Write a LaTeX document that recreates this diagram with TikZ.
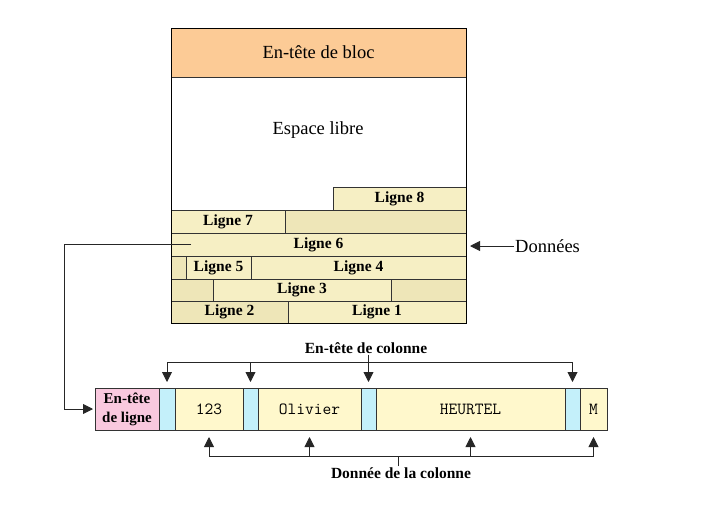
\documentclass[tikz,border=0pt]{standalone}
\usepackage{fontspec}
\setmainfont{Liberation Serif}
\usetikzlibrary{arrows.meta}
\definecolor{hdrc}{HTML}{FCCB96}
\definecolor{cellA}{HTML}{F6EFC4}
\definecolor{cellB}{HTML}{EEE6B8}
\definecolor{datac}{HTML}{FFF8CC}
\definecolor{bluec}{HTML}{C4F0FA}
\definecolor{pinkc}{HTML}{F9C8DE}
\tikzset{
  box/.style={draw=black!80, line width=0.8pt, inner sep=0pt, outer sep=0pt, anchor=north west},
  lg/.style={box, fill=cellA, font=\bfseries\fontsize{15.5}{17}\selectfont},
  fil/.style={box, fill=cellB},
  dat/.style={box, fill=datac, minimum height=42pt, font=\ttfamily\fontsize{17}{19}\selectfont},
  sep/.style={box, fill=bluec, minimum height=42pt},
  conn/.style={draw=black!85, line width=0.9pt},
  arr/.style={conn, -{Triangle[length=10pt,width=10pt]}},
  lbl/.style={font=\bfseries\fontsize{15.5}{18}\selectfont, inner sep=1pt},
}
\begin{document}
\begin{tikzpicture}[x=1pt,y=-1pt]
\useasboundingbox (0,0) rectangle (709,509);
% block
\node[box, line width=1pt, draw=black, fill=white, minimum width=295pt, minimum height=295pt] (blk) at (171,28) {};
\node[box, fill=hdrc, minimum width=295pt, minimum height=49pt, font=\fontsize{18.5}{20}\selectfont] (hdr) at (171,28) {En-tête de bloc};
\node[font=\fontsize{18.5}{20}\selectfont] (free) at (318,130) {Espace libre};
% rows
\node[lg, minimum width=133pt, minimum height=23pt] (l8) at (333,187) {Ligne 8};
\node[lg, minimum width=114pt, minimum height=23pt] (l7) at (171,210) {Ligne 7};
\node[fil, minimum width=181pt, minimum height=23pt] (f7) at (285,210) {};
\node[lg, minimum width=295pt, minimum height=23pt] (l6) at (171,233) {Ligne 6};
\node[fil, minimum width=15pt, minimum height=23pt] (f5) at (171,256) {};
\node[lg, minimum width=65pt, minimum height=23pt] (l5) at (186,256) {Ligne 5};
\node[lg, minimum width=215pt, minimum height=23pt] (l4) at (251,256) {Ligne 4};
\node[fil, minimum width=42pt, minimum height=22pt] (f3a) at (171,279) {};
\node[lg, minimum width=178pt, minimum height=22pt] (l3) at (213,279) {Ligne 3};
\node[fil, minimum width=75pt, minimum height=22pt] (f3b) at (391,279) {};
\node[lg, fill=cellB, minimum width=117pt, minimum height=22pt] (l2) at (171,301) {Ligne 2};
\node[lg, minimum width=178pt, minimum height=22pt] (l1) at (288,301) {Ligne 1};
\draw[line width=1pt] (blk.north west) rectangle (blk.south east);
% Donnees
\node[anchor=west, font=\fontsize{18.5}{20}\selectfont, inner sep=1pt] (don) at (514,246) {Données};
\draw[arr] (don.west) -- ([xshift=4pt]don.west -| l6.east);
% row detail
\node[box, fill=pinkc, minimum width=64pt, minimum height=42pt, align=center, font=\bfseries\fontsize{15}{19}\selectfont] (rh) at (95,388) {En-tête\\de ligne};
\node[sep, minimum width=16pt] (b1) at (159,388) {};
\node[dat, minimum width=68pt] (d1) at (175,388) {123};
\node[sep, minimum width=15pt] (b2) at (243,388) {};
\node[dat, minimum width=103pt] (d2) at (258,388) {Olivier};
\node[sep, minimum width=15pt] (b3) at (361,388) {};
\node[dat, minimum width=189pt] (d3) at (376,388) {HEURTEL};
\node[sep, minimum width=15pt] (b4) at (565,388) {};
\node[dat, minimum width=27pt] (d4) at (580,388) {M};
% connector from Ligne 6
\coordinate (l6in) at (191,244);
\draw[arr] (l6in) -- (64,244) |- ([xshift=-2pt]rh.west);
% column headers
\node[lbl] (ch) at (366,348) {En-tête de colonne};
\coordinate (hline) at (0,362);
\draw[conn] (b1.north |- hline) -- (b4.north |- hline);
\draw[conn] (b3.north |- ch.south) -- (b3.north |- hline);
\foreach \b in {b1,b2,b3,b4}{
  \draw[arr] (\b.north |- hline) -- ([yshift=6pt]\b.north);
}
% column data
\node[lbl] (cd) at (401,473) {Donnée de la colonne};
\coordinate (bline) at (0,456);
\draw[conn] (d1.south |- bline) -- (d4.south |- bline);
\draw[conn] (cd.north -| 398,0) -- (398,456);
\foreach \d in {d1,d2,d3,d4}{
  \draw[arr] (\d.south |- bline) -- ([yshift=-7pt]\d.south);
}
\end{tikzpicture}
\end{document}
